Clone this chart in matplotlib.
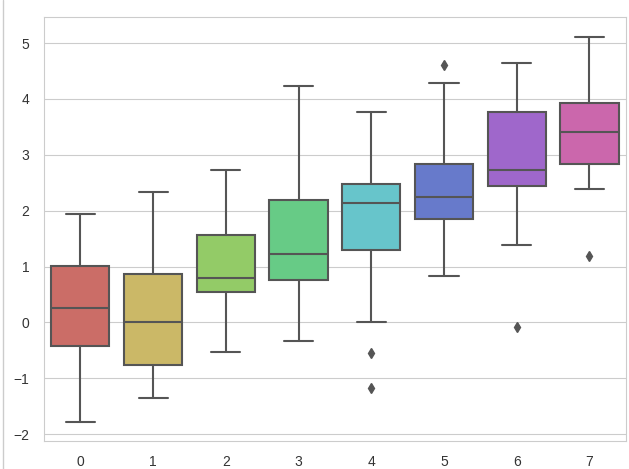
import numpy as np
import matplotlib
matplotlib.use("Agg")
import matplotlib.pyplot as plt
import seaborn as sns
from matplotlib.lines import Line2D

groups = [0, 1, 2, 3, 4, 5, 6, 7]
whislo = [-1.79, -1.36, -0.53, -0.33, 0.00, 0.84, 1.39, 2.38]
q1 = [-0.415, -0.77, 0.54, 0.76, 1.30, 1.85, 2.45, 2.84]
med = [0.265, 0.00, 0.80, 1.22, 2.13, 2.25, 2.72, 3.41]
q3 = [1.01, 0.87, 1.565, 2.20, 2.48, 2.84, 3.77, 3.93]
whishi = [1.94, 2.34, 2.72, 4.23, 3.77, 4.28, 4.65, 5.11]
fliers = [[], [], [], [], [-0.55, -1.18], [4.60], [-0.09], [1.19]]

sns.set_style("whitegrid")
plt.rcParams['font.family'] = ['Liberation Sans', 'DejaVu Sans']

colors = [sns.desaturate(c, 0.75) for c in sns.color_palette("hls", 8)]
gray = "#555555"

stats = []
for i in range(len(groups)):
    stats.append({"med": med[i], "q1": q1[i], "q3": q3[i],
                  "whislo": whislo[i], "whishi": whishi[i],
                  "fliers": fliers[i], "label": str(groups[i])})

fig, ax = plt.subplots(figsize=(6.29, 4.69), dpi=100)
fig.subplots_adjust(left=0.07, right=0.995, top=0.964, bottom=0.06)

bp = ax.bxp(stats, positions=groups, widths=0.8, patch_artist=True,
            boxprops=dict(linewidth=1.5, edgecolor=gray),
            medianprops=dict(color=gray, linewidth=1.5),
            whiskerprops=dict(color=gray, linewidth=1.5),
            capprops=dict(color=gray, linewidth=1.5),
            flierprops=dict(marker='d', markerfacecolor=gray, markeredgecolor=gray,
                            markersize=5, linestyle='none'))
for patch, c in zip(bp['boxes'], colors):
    patch.set_facecolor(c)

ax.set_xlim(-0.5, 7.5)
ax.set_ylim(-2.12, 5.47)
ax.set_yticks([-2, -1, 0, 1, 2, 3, 4, 5])
ax.set_yticklabels(["\u22122", "\u22121", "0", "1", "2", "3", "4", "5"])
ax.tick_params(labelsize=10, colors="#333333", pad=7)
ax.grid(axis='x', visible=False)
ax.grid(axis='y', color=".8")
ax.set_axisbelow(True)
for s in ax.spines.values():
    s.set_color(".8")

fig.add_artist(Line2D([0.004, 0.004], [0, 1], transform=fig.transFigure, color=".8", linewidth=1))

plt.savefig("out.png", dpi=100)
